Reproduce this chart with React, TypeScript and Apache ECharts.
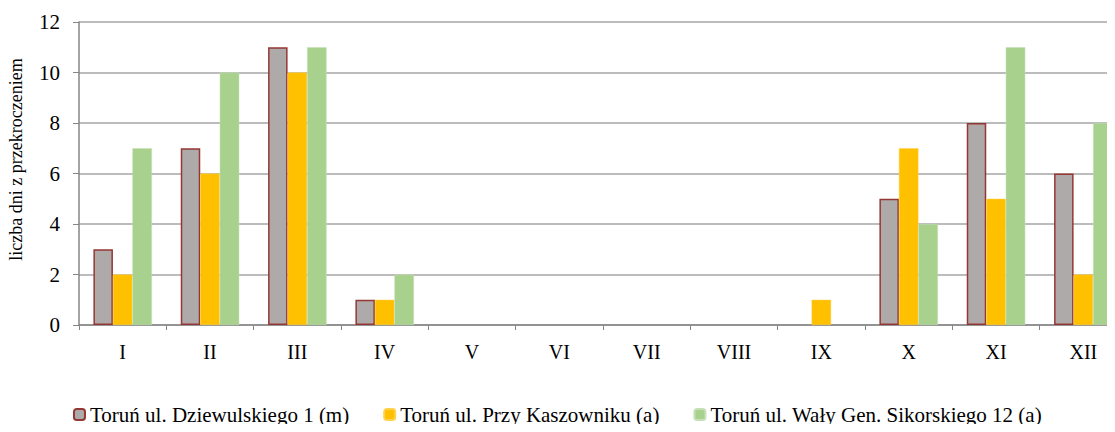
import React, { useEffect, useRef } from "react";
import * as echarts from "echarts";

const categories = ["I", "II", "III", "IV", "V", "VI", "VII", "VIII", "IX", "X", "XI", "XII"];
const seriesNames = [
  "Toruń ul. Dziewulskiego 1 (m)",
  "Toruń ul. Przy Kaszowniku (a)",
  "Toruń ul. Wały Gen. Sikorskiego 12 (a)",
];
const dziewulskiego = [3, 7, 11, 1, 0, 0, 0, 0, 0, 5, 8, 6];
const kaszownik = [2, 6, 10, 1, 0, 0, 0, 0, 1, 7, 5, 2];
const sikorskiego = [7, 10, 11, 2, 0, 0, 0, 0, 0, 4, 11, 8];

const FONT = "Liberation Serif";

const hideZeroBorder = (arr: number[]) =>
  arr.map((v) => (v === 0 ? { value: v, itemStyle: { borderWidth: 0 } } : v));

export default function App() {
  const ref = useRef<HTMLDivElement>(null);
  useEffect(() => {
    if (!ref.current) return;
    const chart = echarts.init(ref.current, undefined, { renderer: "svg" });
    chart.setOption({
      animation: false,
      backgroundColor: "#ffffff",
      textStyle: { fontFamily: FONT },
      grid: { left: 79, right: -12, top: 22, bottom: 107, outerBoundsMode: "none", containLabel: false },
      legend: {
        bottom: 2,
        left: "center",
        itemWidth: 11,
        itemHeight: 11,
        itemGap: 34,
        textStyle: { fontFamily: FONT, fontSize: 21, color: "#000" },
        data: seriesNames,
      },
      xAxis: {
        type: "category",
        data: categories,
        axisLine: { lineStyle: { color: "#868686", width: 1.5 } },
        axisTick: { show: true, alignWithLabel: false, length: 5, lineStyle: { color: "#868686" } },
        axisLabel: { fontFamily: FONT, fontSize: 20, color: "#000", margin: 17 },
      },
      yAxis: {
        type: "value",
        min: 0,
        max: 12,
        interval: 2,
        name: "liczba dni z przekroczeniem",
        nameLocation: "middle",
        nameGap: 54,
        nameTextStyle: { fontFamily: FONT, fontSize: 18, color: "#000", padding: [0, 0, 0, 28] },
        axisLine: { show: true, lineStyle: { color: "#868686", width: 1.5 } },
        axisTick: { show: true, length: 6, lineStyle: { color: "#868686" } },
        axisLabel: { fontFamily: FONT, fontSize: 21, color: "#000", margin: 19 },
        splitLine: { lineStyle: { color: "#A6A6A6", width: 1.5 } },
      },
      series: [
        {
          name: seriesNames[0],
          type: "bar",
          data: hideZeroBorder(dziewulskiego),
          barWidth: 19.5,
          barGap: "0%",
          itemStyle: { color: "#AEAAAA", borderColor: "#953735", borderWidth: 1.5 },
        },
        {
          name: seriesNames[1],
          type: "bar",
          data: hideZeroBorder(kaszownik),
          barWidth: 19.5,
          barGap: "0%",
          itemStyle: { color: "#FFC000", borderColor: "#FFD24D", borderWidth: 0.5 },
        },
        {
          name: seriesNames[2],
          type: "bar",
          data: hideZeroBorder(sikorskiego),
          barWidth: 19.5,
          barGap: "0%",
          itemStyle: { color: "#A9D18E", borderColor: "#C5E0B4", borderWidth: 0.5 },
        },
      ],
    });
    return () => chart.dispose();
  }, []);
  return <div ref={ref} style={{ width: 1115, height: 432, margin: -8 }} />;
}
